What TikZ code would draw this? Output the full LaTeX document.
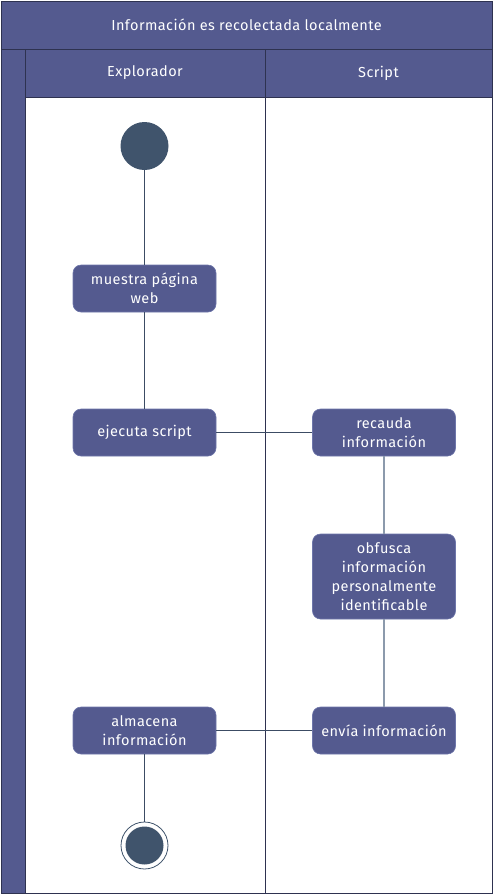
\documentclass[tikz,border=0pt]{standalone}
\usepackage{fontspec}
\setmainfont{Fira Sans}[LetterSpace=3]
\usetikzlibrary{positioning}
\definecolor{hdr}{RGB}{84,90,143}
\definecolor{frame}{RGB}{46,50,80}
\definecolor{boxline}{RGB}{110,118,170}
\definecolor{startc}{RGB}{64,84,108}
\definecolor{lineA}{RGB}{60,76,100}
\definecolor{lineB}{RGB}{140,154,172}
\tikzset{
  act/.style={draw=boxline, line width=0.6pt, fill=hdr, rounded corners=8pt,
    minimum width=143pt, minimum height=47pt, text=white, align=center,
    font=\fontsize{14.5}{19}\selectfont, inner sep=2pt},
  startnode/.style={circle, fill=startc, minimum size=48pt, inner sep=0pt},
  endnode/.style={circle, draw=startc, fill=white, line width=0.8pt, minimum size=47pt, inner sep=0pt},
  endin/.style={circle, fill=startc, minimum size=38pt, inner sep=0pt},
  lanehdr/.style={draw=frame, line width=1pt, fill=hdr},
  hdrtext/.style={text=white, font=\fontsize{14.5}{16}\selectfont},
  flowA/.style={draw=lineA, line width=1pt},
  flowB/.style={draw=lineB, line width=1.2pt},
}
\begin{document}
\begin{tikzpicture}[x=1pt,y=-1pt]
\useasboundingbox (0,0) rectangle (493,895);
% frame
\fill[white] (0,0) rectangle (493,895);
\draw[lanehdr] (1,1) rectangle (492,49);
\draw[lanehdr] (1,49) rectangle (25,893);
\draw[lanehdr] (25,49) rectangle (265,97);
\draw[lanehdr] (265,49) rectangle (492,97);
\draw[frame, line width=1pt] (25,97) rectangle (492,893);
\draw[frame, line width=1pt] (265,97) -- (265,893);
\node[hdrtext] (title) at (246.5,25) {Información es recolectada localmente};
\node[hdrtext] (lane1) at (145,73) {Explorador};
\node[hdrtext] (lane2) at (378.5,73) {Script};
% nodes
\node[startnode] (start) at (144.5,146) {};
\node[act] (muestra) at (144.5,288.5) {muestra página\\web};
\node[act] (ejecuta) at (144.5,432.5) {ejecuta script};
\node[act] (recauda) at (384,432.5) {recauda\\información};
\node[act, minimum height=85pt] (obfusca) at (384,576.5) {obfusca\\información\\personalmente\\identificable};
\node[act] (envia) at (384,730.5) {envía información};
\node[act] (almacena) at (144.5,730.5) {almacena\\información};
\node[endnode] (fin) at (144.5,845.5) {};
\node[endin] (finin) at (144.5,845.5) {};
% edges
\draw[flowA] (start) -- (muestra);
\draw[flowA] (muestra) -- (ejecuta);
\draw[flowA] (ejecuta) -- (recauda);
\draw[flowB] (recauda) -- (obfusca);
\draw[flowB] (obfusca) -- (envia);
\draw[flowA] (envia) -- (almacena);
\draw[flowA] (almacena) -- (fin);
\end{tikzpicture}
\end{document}
